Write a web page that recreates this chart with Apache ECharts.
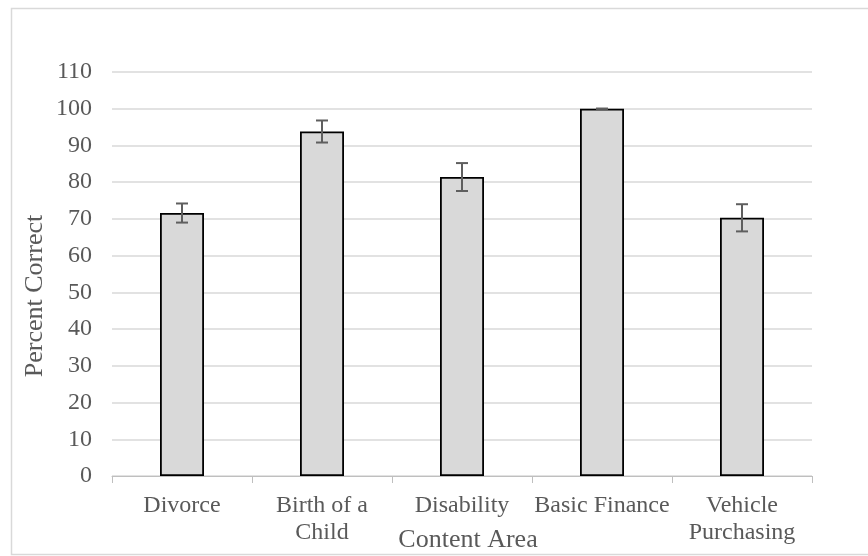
<!DOCTYPE html>
<html>
<head>
<meta charset="utf-8">
<script src="https://cdn.jsdelivr.net/npm/echarts@6/dist/echarts.min.js"></script>
<style>
html,body{margin:0;padding:0;background:#fff;}
#chart{width:868px;height:556px;}
</style>
</head>
<body>
<div id="chart"></div>
<script>
const categories = ['Divorce', 'Birth of a\nChild', 'Disability', 'Basic Finance', 'Vehicle\nPurchasing'];
const values = [71.6, 93.8, 81.4, 100, 70.3];
const errors = [2.6, 3.0, 3.8, 0, 3.7];
const yTicks = {min: 0, max: 110, interval: 10};

const FONT = '"Liberation Serif", "Times New Roman", serif';
const chart = echarts.init(document.getElementById('chart'));
const errData = values.map((v, i) => [i, v - errors[i], v + errors[i]]);

chart.setOption({
  animation: false,
  backgroundColor: '#fff',
  graphic: [{
    type: 'rect', shape: {x: 11.5, y: 8.5, width: 870, height: 546},
    style: {fill: 'none', stroke: '#d9d9d9', lineWidth: 1.5}, silent: true
  }],
  grid: {left: 112, right: 56, top: 72, bottom: 80, outerBoundsMode: 'none', containLabel: false},
  xAxis: {
    type: 'category',
    data: categories,
    name: 'Content Area',
    nameLocation: 'middle',
    nameGap: 51,
    nameMoveOverlap: false,
    nameTextStyle: {fontFamily: FONT, fontSize: 26, color: '#595959', padding: [0, 0, 0, 12]},
    axisLine: {lineStyle: {color: '#bfbfbf', width: 1}},
    axisTick: {show: true, length: 7, lineStyle: {color: '#bfbfbf'}},
    axisLabel: {fontFamily: FONT, fontSize: 24, color: '#595959', margin: 16, lineHeight: 27, interval: 0}
  },
  yAxis: {
    type: 'value',
    min: yTicks.min, max: yTicks.max, interval: yTicks.interval,
    name: 'Percent Correct',
    nameLocation: 'middle',
    nameGap: 64,
    nameMoveOverlap: false,
    nameTextStyle: {fontFamily: FONT, fontSize: 26, color: '#595959', padding: [0, 44, 0, 0]},
    axisLine: {show: false},
    axisTick: {show: false},
    axisLabel: {fontFamily: FONT, fontSize: 24, color: '#595959', margin: 20},
    splitLine: {lineStyle: {color: '#d9d9d9', width: 1.5}}
  },
  series: [{
    type: 'bar',
    data: values,
    barWidth: 44,
    itemStyle: {color: '#d9d9d9', borderColor: '#000', borderWidth: 1.8}
  }, {
    type: 'custom',
    data: errData,
    z: 10,
    renderItem: function (params, api) {
      const x = api.value(0);
      const lo = api.coord([x, api.value(1)]);
      const hi = api.coord([x, api.value(2)]);
      const hw = 6;
      const style = {stroke: '#5f5f5f', lineWidth: 2, fill: 'none'};
      return {
        type: 'group',
        children: [
          {type: 'line', shape: {x1: lo[0], y1: lo[1], x2: hi[0], y2: hi[1]}, style: style},
          {type: 'line', shape: {x1: lo[0] - hw, y1: lo[1], x2: lo[0] + hw, y2: lo[1]}, style: style},
          {type: 'line', shape: {x1: hi[0] - hw, y1: hi[1], x2: hi[0] + hw, y2: hi[1]}, style: style}
        ]
      };
    }
  }]
});
</script>
</body>
</html>
